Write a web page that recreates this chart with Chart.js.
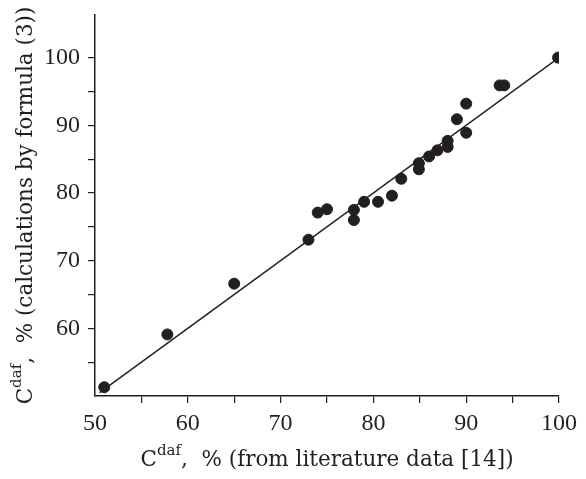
<!DOCTYPE html>
<html>
<head>
<meta charset="utf-8">
<script src="https://cdn.jsdelivr.net/npm/chart.js@4/dist/chart.umd.min.js"></script>
<style>
    html, body { margin: 0; padding: 0; background: #fff; }
    #wrap { width: 586px; height: 479px; position: relative; }
</style>
</head>
<body>
<div id="wrap"><canvas id="myChart"></canvas></div>
<script>
// C daf from literature data vs. calculated by formula (3)
const literature = [51, 57.8, 65, 73, 74, 75, 77.9, 77.9, 79, 80.5, 82, 83, 84.9, 84.9, 86, 86.9, 88, 88, 89, 90, 90, 93.6, 94.1, 99.9];
const calculated = [51.3, 59.1, 66.6, 73.1, 77.1, 77.6, 77.5, 76, 78.7, 78.7, 79.6, 82.1, 84.4, 83.5, 85.4, 86.3, 86.8, 87.7, 90.9, 93.2, 88.9, 95.9, 95.9, 100];

// y = x reference line
const lineX = [50.5, 100];
const lineY = [50.5, 100];

const xTicks = [50, 60, 70, 80, 90, 100];
const yTicks = [60, 70, 80, 90, 100];

const ink = '#231f20';
const serif = '"Liberation Serif", "Times New Roman", serif';
const titleFont = '"DejaVu Serif", serif';

const points = literature.map((x, i) => ({ x: x, y: calculated[i] }));
const line = lineX.map((x, i) => ({ x: x, y: lineY[i] }));

// axis titles with a superscript, drawn by hand
function drawSupTitle(ctx, parts, cx, baseline) {
    let total = 0;
    parts.forEach(p => {
        ctx.font = (p.sup ? '15px ' : '21.5px ') + titleFont;
        p.w = ctx.measureText(p.t).width;
        total += p.w;
    });
    let x = cx - total / 2;
    parts.forEach(p => {
        ctx.font = (p.sup ? '15px ' : '21.5px ') + titleFont;
        ctx.fillText(p.t, x, baseline - (p.sup ? 11 : 0));
        x += p.w;
    });
}

const titles = {
    id: 'titles',
    afterDraw(chart) {
        const ctx = chart.ctx;
        const a = chart.chartArea;
        ctx.save();
        ctx.fillStyle = ink;
        ctx.textAlign = 'left';
        ctx.textBaseline = 'alphabetic';
        drawSupTitle(ctx, [
            { t: 'C' }, { t: 'daf', sup: true }, { t: ',  % (from literature data [14])' }
        ], (a.left + a.right) / 2, 466);

        ctx.translate(32, (a.top + a.bottom) / 2);
        ctx.rotate(-Math.PI / 2);
        drawSupTitle(ctx, [
            { t: 'C' }, { t: 'daf', sup: true }, { t: ',  % (calculations by formula (3))' }
        ], 0, 0);
        ctx.restore();
    }
};

function minorTicks(s) {
    s.ticks = [];
    for (let v = s.axis === 'x' ? 50 : 55; v <= 100; v += 5) s.ticks.push({ value: v });
}

const ctx = document.getElementById('myChart');

new Chart(ctx, {
    type: 'scatter',
    data: {
        datasets: [{
            label: 'points',
            data: points,
            backgroundColor: ink,
            borderColor: ink,
            pointRadius: 5.5,
            pointHoverRadius: 5.5
        }, {
            label: 'line',
            type: 'line',
            data: line,
            borderColor: ink,
            borderWidth: 1.5,
            pointRadius: 0,
            fill: false
        }]
    },
    options: {
        responsive: true,
        maintainAspectRatio: false,
        animation: false,
        layout: { padding: { left: 0, top: 15, right: 27, bottom: 0 } },
        plugins: {
            legend: { display: false },
            tooltip: { enabled: false }
        },
        scales: {
            x: {
                type: 'linear',
                min: 50,
                max: 100,
                border: { display: true, color: ink, width: 1.5 },
                grid: {
                    drawOnChartArea: false,
                    color: c => c.tick && c.tick.value === 50 ? 'rgba(0,0,0,0)' : ink,
                    tickLength: 7,
                    lineWidth: 1.2
                },
                afterBuildTicks: minorTicks,
                ticks: {
                    color: ink,
                    font: { family: serif, size: 24 },
                    padding: 6,
                    maxRotation: 0,
                    autoSkip: false,
                    callback: v => xTicks.includes(v) ? String(v) : ''
                },
                afterFit: s => { s.height = 83; s.paddingLeft = 0; s.paddingRight = 0; }
            },
            y: {
                type: 'linear',
                min: 50,
                max: 106.3,
                border: { display: true, color: ink, width: 1.5 },
                grid: { drawOnChartArea: false, color: ink, tickLength: 7, lineWidth: 1.2 },
                afterBuildTicks: minorTicks,
                ticks: {
                    color: ink,
                    font: { family: serif, size: 24 },
                    padding: 8,
                    autoSkip: false,
                    callback: v => yTicks.includes(v) ? String(v) : ''
                },
                afterFit: s => { s.width = 95; s.paddingTop = 0; s.paddingBottom = 0; }
            }
        }
    },
    plugins: [titles]
});
</script>
</body>
</html>
